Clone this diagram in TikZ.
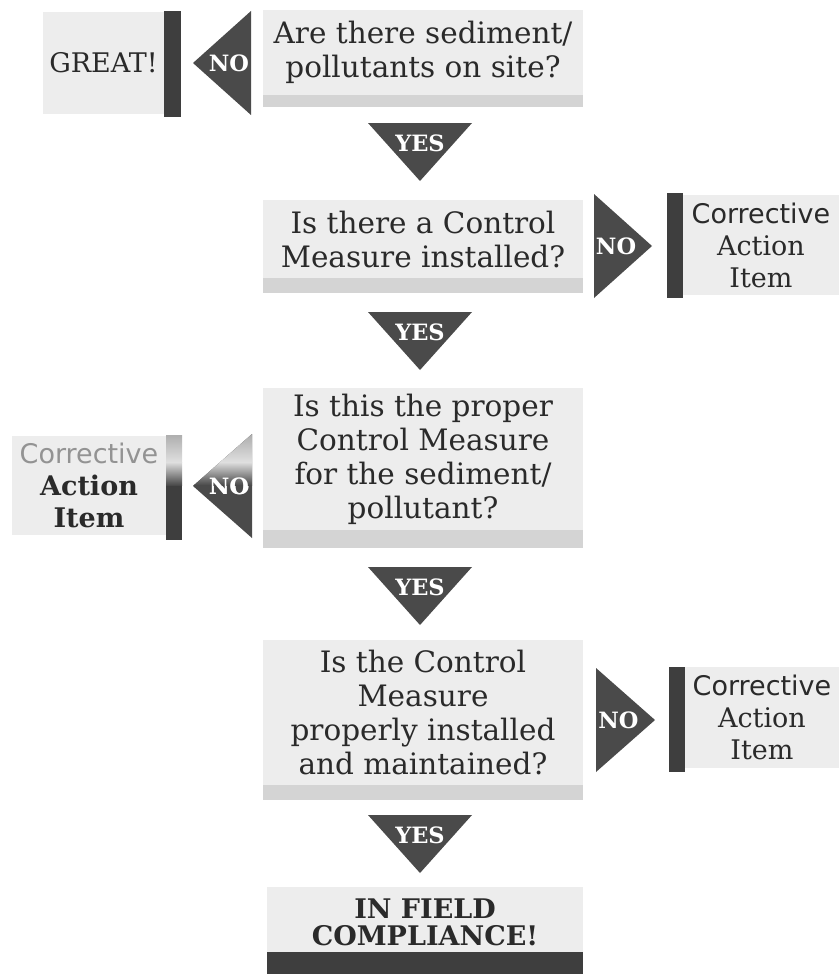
\documentclass[tikz,border=0pt]{standalone}
\usepackage{fontspec}
\setmainfont{DejaVu Serif}
\setsansfont{DejaVu Sans}
\definecolor{boxgray}{HTML}{EDEDED}
\definecolor{stripgray}{HTML}{D4D4D4}
\definecolor{arrowgray}{HTML}{4A4A4A}
\definecolor{bargray}{HTML}{3E3E3E}
\definecolor{inkgray}{HTML}{2A2A2A}
\tikzset{
  qtext/.style={align=center,text=inkgray,inner sep=0pt,font=\fontsize{29.5}{34}\selectfont},
  catext/.style={align=center,text=inkgray,inner sep=0pt,font=\fontsize{27}{32}\selectfont},
  answer/.style={text=white,inner sep=0pt,font=\bfseries\fontsize{22.5}{22.5}\selectfont}
}
\def\question#1#2#3#4#5{
  % 1: name
  % 2: top
  % 3: strip top
  % 4: bottom
  % 5: text
  \fill[boxgray] (263,#2) rectangle (583,#4);
  \fill[stripgray] (263,#3) rectangle (583,#4);
  \node[qtext] (#1) at (423,{(#2+#3)/2}) {#5};
}
\def\yesarrow#1#2{
  % 1: name
  % 2: top
  \fill[arrowgray] (368,#2) -- (472,#2) -- (420,#2+58) -- cycle;
  \node[answer] (#1) at (420,#2+20) {YES};
}
\def\noarrow#1#2#3#4#5{
  % 1: name
  % 2: base x
  % 3: tip x
  % 4: y
  % 5: fill
  \path[#5] (#2,#4-52) -- (#3,#4) -- (#2,#4+52) -- cycle;
  \node[answer] (#1) at ({#2+(#3-#2)*0.38},#4) {NO};
}
\def\result#1#2#3#4#5#6{
  % 1: name
  % 2: left, 3: right
  % 4: top, 5: bottom
  % 6: text
  \fill[boxgray] (#2,#4) rectangle (#3,#5);
  \node[catext] (#1) at ({(#2+#3)/2},{(#4+#5)/2}) {#6};
}

\begin{document}
\begin{tikzpicture}[x=1pt,y=-1pt]
  \useasboundingbox (0,0) rectangle (839,974);

  % sediment on site?
  \result{great}{43}{164}{12}{114}{GREAT!}
  \fill[bargray] (164,11) rectangle (181,117);
  \noarrow{no1}{251}{193}{63}{fill=arrowgray}
  \question{q1}{10}{95}{107}{Are there sediment/\\pollutants on site?}
  \yesarrow{yes1}{123}

  % control measure installed?
  \question{q2}{200}{278}{293}{Is there a Control\\Measure installed?}
  \noarrow{no2}{594}{652}{246}{fill=arrowgray}
  \fill[bargray] (667,193) rectangle (683,298);
  \result{ca2}{683}{839}{195}{295}{{\sffamily Corrective}\\Action\\Item}
  \yesarrow{yes2}{312}

  % proper control measure?
  \question{q3}{388}{530}{548}{Is this the proper\\Control Measure\\for the sediment/\\pollutant?}
  \result{ca3}{12}{166}{436}{535}{{\sffamily\color{gray!85}Corrective}\\\bfseries Action\\\bfseries Item}
  \fill[bargray] (166,435) rectangle (182,540);
  \noarrow{no3}{252}{193}{486}{fill=arrowgray}
  \begin{scope}
    \clip (166,435) rectangle (182,540) (252,434) -- (193,486) -- (252,538) -- cycle;
    \shade[top color=gray!70,bottom color=gray!25] (160,430) rectangle (256,462);
    \shade[top color=gray!25,bottom color=arrowgray] (160,462) rectangle (256,485);
  \end{scope}
  \node[answer] (no3) at (229,486) {NO};
  \yesarrow{yes3}{567}

  % installed and maintained?
  \question{q4}{640}{785}{800}{Is the Control\\Measure\\properly installed\\and maintained?}
  \noarrow{no4}{596}{655}{720}{fill=arrowgray}
  \fill[bargray] (669,667) rectangle (685,772);
  \result{ca4}{685}{839}{667}{768}{{\sffamily Corrective}\\Action\\Item}
  \yesarrow{yes4}{815}

  \fill[boxgray] (267,887) rectangle (583,974);
  \fill[bargray] (267,952) rectangle (583,974);
  \node[qtext,font=\bfseries\fontsize{27}{27}\selectfont] (done) at (425,922) {IN FIELD\\COMPLIANCE!};
\end{tikzpicture}
\end{document}
